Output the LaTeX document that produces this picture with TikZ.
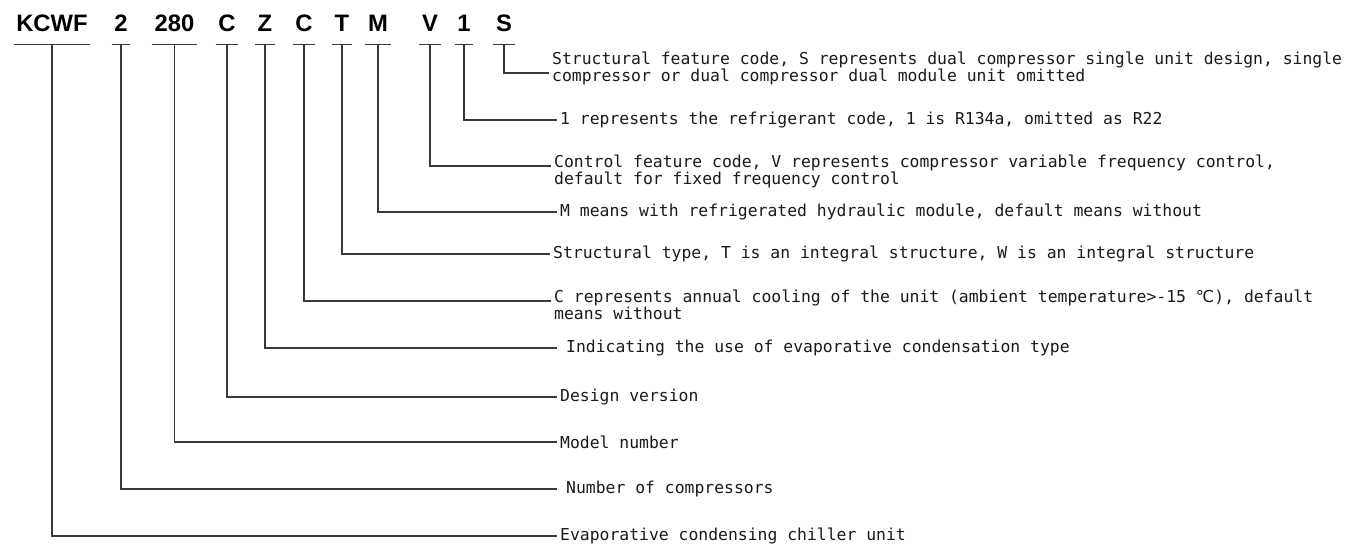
\documentclass[tikz,border=0pt]{standalone}
\usepackage{fontspec}
\setmainfont{Liberation Sans}
\newfontfamily\codefont{Liberation Sans}
\newfontfamily\descfont{DejaVu Sans Mono}
\newfontfamily\symfont{DejaVu Sans}
\usepackage{tikz}
\usetikzlibrary{positioning, calc}
\definecolor{leadgray}{HTML}{3D3835}
\definecolor{textblack}{HTML}{1A1A1A}

\tikzset{
  code/.style={font=\codefont\bfseries\fontsize{23.8}{24}\selectfont, text=black,
    inner xsep=2.5pt, inner ysep=0pt, text depth=13pt, anchor=base},
  desc/.style={font=\descfont\fontsize{16.4}{17}\selectfont, text=textblack,
    anchor=west, align=left, inner xsep=3pt, inner ysep=0pt},
  lead/.style={leadgray, line width=1.2pt}
}

\begin{document}
\begin{tikzpicture}[x=1pt, y=-1pt]
\useasboundingbox[fill=white] (0,0) rectangle (1357,547);

% model code
\node[code] (k) at (52,31) {KCWF};
\node[code] (n) at (121,31) {2};
\node[code] (m) at (174.5,31) {280};
\node[code] (c1) at (227,31) {C};
\node[code] (z) at (265,31) {Z};
\node[code] (c2) at (304,31) {C};
\node[code] (t) at (342,31) {T};
\node[code] (h) at (378,31) {M};
\node[code] (v) at (430,31) {V};
\node[code] (r) at (464,31) {1};
\node[code] (s) at (504,31) {S};

% meanings
\node[desc, font=\descfont\fontsize{16.4}{13}\selectfont] (ds) at (549,68)
  {Structural feature code, S represents dual compressor single unit design, single\\compressor or dual compressor dual module unit omitted};
\node[desc] (dr) at (557,120) {1 represents the refrigerant code, 1 is R134a, omitted as R22};
\node[desc] (dv) at (551,171)
  {Control feature code, V represents compressor variable frequency control,\\default for fixed frequency control};
\node[desc] (dh) at (557,212) {M means with refrigerated hydraulic module, default means without};
\node[desc] (dt) at (550,254) {Structural type, T is an integral structure, W is an integral structure};
\node[desc] (dc2) at (551,305)
  {C represents annual cooling of the unit (ambient temperature>-15 {\symfont ℃}), default\\means without};
\node[desc] (dz) at (557,348) {\hspace{6pt}Indicating the use of evaporative condensation type};
\node[desc] (dc1) at (557,397) {Design version};
\node[desc] (dm) at (557,442) {Model number};
\node[desc] (dn) at (557,489) {\hspace{6pt}Number of compressors};
\node[desc] (dk) at (557,536) {Evaporative condensing chiller unit};

\foreach \a in {k,n,m,c1,z,c2,t,h,v,r,s}
  \draw[lead] (\a.south west) -- (\a.south east);

\draw[lead] (s.south) |- ([yshift=-5pt]ds.west);
\draw[lead] (v.south) |- ([yshift=5pt]dv.west);
\draw[lead] (c2.south) |- ([yshift=4pt]dc2.west);
\foreach \a/\b in {r/dr,h/dh,t/dt,z/dz,c1/dc1,m/dm,n/dn,k/dk}
  \draw[lead] (\a.south) |- (\b.west);

\end{tikzpicture}
\end{document}
